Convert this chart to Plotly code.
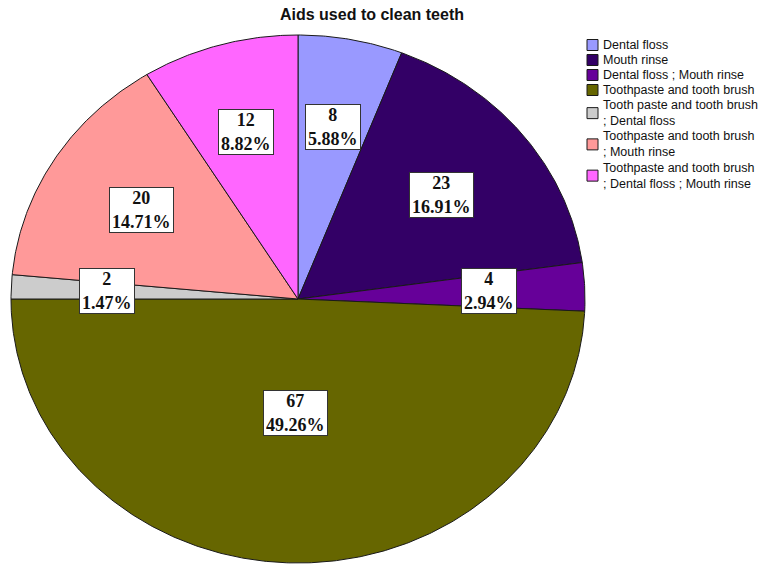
import math
import plotly.graph_objects as go

# Survey responses: aids used to clean teeth
categories = [
    "Dental floss",
    "Mouth rinse",
    "Dental floss ; Mouth rinse",
    "Toothpaste and tooth brush",
    "Tooth paste and tooth brush<br>; Dental floss",
    "Toothpaste and tooth brush<br>; Mouth rinse",
    "Toothpaste and tooth brush<br>; Dental floss ; Mouth rinse",
]
counts = [8, 23, 4, 67, 2, 20, 12]
colors = ["#9999FF", "#330066", "#660099", "#666600", "#CCCCCC", "#FF9999", "#FF66FF"]

W, H = 771, 565
# pie geometry in pixels (elliptical pie, drawn on cartesian axes)
cx, cy, rx, ry = 298, 299, 287, 264
EDGE = "#1a1a1a"

fig = go.Figure()
total = sum(counts)
start = 0.0
label_pos = []
for name, val, col in zip(categories, counts, colors):
    span = val / total * 2 * math.pi
    n = max(4, int(span / math.radians(0.5)))
    angs = [start + span * i / n for i in range(n + 1)]
    xs = [0.0] + [math.sin(a) for a in angs] + [0.0]
    ys = [0.0] + [math.cos(a) for a in angs] + [0.0]
    fig.add_trace(go.Scatter(
        x=xs, y=ys, mode="lines", fill="toself", fillcolor=col,
        line=dict(color=EDGE, width=1), showlegend=False, hoverinfo="skip",
        name=name.replace("<br>", " "),
    ))
    # label sits at the centroid of the sector
    half = span / 2
    r = 2 * math.sin(half) / (3 * half)
    mid = start + half
    label_pos.append((r * math.sin(mid), r * math.cos(mid), val))
    start += span

for lx, ly, val in label_pos:
    fig.add_annotation(
        x=lx, y=ly, xref="x", yref="y", showarrow=False,
        text=f"{val}<br>{val / total * 100:.2f}%",
        font=dict(family="Liberation Serif", size=18, color="#111111", weight="bold"),
        bgcolor="white", bordercolor="#333333", borderwidth=1, borderpad=2,
        height=40, align="center", valign="middle",
    )

# legend: coloured swatch plus the (possibly wrapped) category name
FONT = 12.5
LINE_H = 1.3 * FONT
ITEM_H = 15
cursor = 37.5
for name, col in zip(categories, colors):
    nlines = name.count("<br>") + 1
    yc = cursor + ITEM_H / 2 + (nlines - 1) * LINE_H / 2
    fig.add_annotation(
        x=602 / W, y=1 - yc / H, xref="paper", yref="paper",
        xanchor="left", yanchor="middle", showarrow=False, text=name,
        align="left", borderpad=0,
        font=dict(family="Liberation Sans", size=FONT, color="#111111"),
    )
    fig.add_shape(
        type="rect", xref="paper", yref="paper",
        x0=587 / W, x1=598 / W, y0=1 - (yc - 5.5) / H, y1=1 - (yc + 5.5) / H,
        fillcolor=col, line=dict(color=EDGE, width=1),
    )
    cursor += ITEM_H + (nlines - 1) * LINE_H

fig.update_layout(
    width=W, height=H,
    margin=dict(l=0, r=0, t=0, b=0),
    paper_bgcolor="white", plot_bgcolor="white",
    xaxis=dict(range=[-cx / rx, (W - cx) / rx], visible=False, fixedrange=True),
    yaxis=dict(range=[(cy - H) / ry, cy / ry], visible=False, fixedrange=True),
    title=dict(
        text="<b>Aids used to clean teeth</b>",
        x=372 / W, xanchor="center", y=1 - 9 / H, yanchor="top",
        font=dict(family="Liberation Sans", size=16, color="#111111"),
    ),
    showlegend=False,
)

fig.write_html("out.html")
